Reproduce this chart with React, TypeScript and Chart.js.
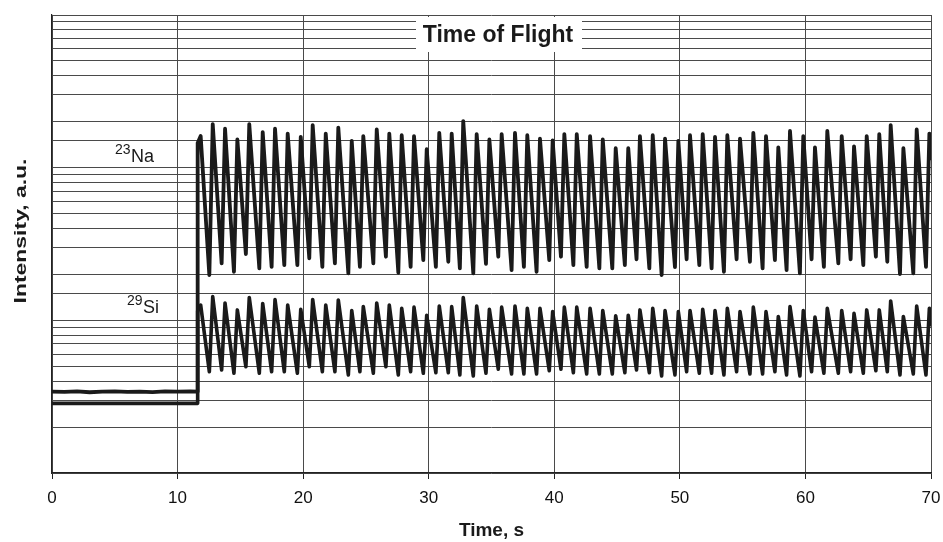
import React, { useEffect, useRef } from "react";
import { Chart, registerables } from "chart.js";

Chart.register(...registerables);

// ---- data ----
const xTickValues = [0, 10, 20, 30, 40, 50, 60, 70];

const jumpTime = 11.6;
const endTime = 70;

const naBaseTimes = [0, 1, 2, 3, 4, 5, 6, 7, 8, 9, 10, 11, 11.6];
const naBaseValues = [3.41, 3.4, 3.42, 3.38, 3.41, 3.42, 3.4, 3.41, 3.39, 3.42, 3.41, 3.43, 3.41];
const siBaseTimes = [0, 11.6];
const siBaseValues = [2.86, 2.86];

const naJumpTop = 145;
const siJumpTop = 11.5;
const naEnd = 112;
const siEnd = 9.1;

const peakTimes = [
  11.84, 12.8, 13.78, 14.76, 15.71, 16.78, 17.76, 18.77, 19.81, 20.76, 21.8, 22.8, 23.87, 24.79, 25.86,
  26.86, 27.85, 28.83, 29.84, 30.84, 31.83, 32.75, 33.82, 34.83, 35.81, 36.87, 37.85, 38.86, 39.87, 40.8,
  41.79, 42.85, 43.86, 44.89, 45.89, 46.82, 47.84, 48.82, 49.88, 50.81, 51.82, 52.8, 53.78, 54.79, 55.85,
  56.86, 57.84, 58.77, 59.83, 60.76, 61.74, 62.89, 63.87, 64.88, 65.88, 66.79, 67.8, 68.86, 69.87,
];

const troughTimes = [
  12.53, 13.51, 14.49, 15.44, 16.51, 17.49, 18.5, 19.54, 20.49, 21.53, 22.53, 23.6, 24.52, 25.59, 26.59,
  27.58, 28.56, 29.57, 30.57, 31.56, 32.48, 33.55, 34.56, 35.54, 36.6, 37.58, 38.59, 39.6, 40.53, 41.52,
  42.58, 43.59, 44.62, 45.62, 46.55, 47.57, 48.55, 49.61, 50.54, 51.55, 52.53, 53.51, 54.52, 55.58, 56.59,
  57.57, 58.5, 59.56, 60.49, 61.47, 62.62, 63.6, 64.61, 65.61, 66.52, 67.53, 68.59, 69.6,
];

const naPeaks = [
  161, 193, 180, 153, 193, 171, 180, 167, 159, 190, 167, 183, 150, 161, 178, 167, 163, 161,
  132, 169, 167, 202, 166, 153, 166, 169, 163, 155, 151, 166, 166, 161, 153, 134, 134, 161, 163, 155, 150,
  163, 166, 159, 163, 155, 169, 161, 136, 174, 161, 136, 174, 161, 138, 161, 166, 190, 134, 178, 167,
];

const naTroughs = [
  19.8, 23.6, 20.8, 27.2, 21.9, 22.4, 23.0, 23.0, 25.5, 22.4, 23.6, 20.3, 22.4, 23.6, 26.1, 20.5, 22.4,
  24.8, 22.4, 24.2, 21.9, 20.3, 23.4, 26.1, 21.3, 22.4, 20.8, 24.8, 26.1, 23.0, 22.4, 21.9, 21.9, 23.0, 25.1, 21.9, 19.8, 22.3,
  25.1, 23.0, 21.9, 20.8, 25.1, 24.2, 21.9, 24.8, 21.3, 20.3, 25.1, 22.4, 23.6, 25.1, 23.0, 26.1, 24.2, 20.1, 20.3, 22.4,
];

const siPeaks = [
  12.6, 14.3, 13.0, 11.7, 14.1, 12.9, 13.7, 12.6, 11.8, 13.7, 12.6, 13.6, 11.6, 12.3, 13.0, 12.6, 12.0, 12.2,
  10.8, 12.4, 12.3, 14.1, 12.4, 11.8, 12.2, 12.4, 12.0, 12.0, 11.4, 12.2, 12.2, 12.0, 11.6, 10.7, 10.8, 11.7, 12.0, 11.6, 11.4,
  11.6, 11.8, 11.6, 12.0, 11.4, 12.2, 11.4, 10.6, 12.3, 11.6, 10.5, 12.0, 11.6, 11.1, 11.7, 11.7, 13.4, 10.6, 12.4, 12.0,
];

const siTroughs = [
  4.61, 4.73, 4.5, 4.97, 4.5, 4.61, 4.61, 4.5, 4.97, 4.61, 4.61, 4.39, 4.61, 4.5, 4.97, 4.39, 4.61,
  4.5, 4.54, 4.54, 4.39, 4.32, 4.5, 4.78, 4.45, 4.45, 4.45, 4.68, 4.78, 4.54, 4.45, 4.45, 4.45, 4.54, 4.73, 4.54, 4.32, 4.39,
  4.61, 4.5, 4.5, 4.39, 4.61, 4.45, 4.45, 4.61, 4.39, 4.32, 4.61, 4.5, 4.5, 4.61, 4.5, 4.68, 4.61, 4.39, 4.45, 4.39,
];

// label anchors: [x (s), y (intensity)]
const naLabelAnchor = [6.29, 109];
const siLabelAnchor = [7.25, 11.25];

const FONT = '"Liberation Sans", Arial, sans-serif';
const INK = "#1a1a1a";
const GRID = "#4a4a4a";

function buildSeries(
  baseTimes: number[],
  baseValues: number[],
  jumpTop: number,
  peaks: number[],
  troughs: number[],
  endValue: number
) {
  const pts: { x: number; y: number }[] = baseTimes.map((t, i) => ({ x: t, y: baseValues[i] }));
  pts.push({ x: jumpTime, y: jumpTop });
  peakTimes.forEach((t, i) => {
    pts.push({ x: t, y: peaks[i] });
    if (i < troughTimes.length) pts.push({ x: troughTimes[i], y: troughs[i] });
  });
  pts.push({ x: endTime, y: endValue });
  return pts;
}

const overlayPlugin = {
  id: "overlayText",
  afterDraw(chart: any) {
    const { ctx, scales } = chart;
    const xs = scales.x;
    const ys = scales.y;
    ctx.save();

    // chart title inside the plot, on a white box
    ctx.fillStyle = "#ffffff";
    ctx.fillRect(416, 17, 166, 35);
    ctx.fillStyle = INK;
    ctx.font = `bold 23px ${FONT}`;
    ctx.textAlign = "center";
    ctx.textBaseline = "alphabetic";
    ctx.fillText("Time of Flight", 498, 42);

    // isotope labels
    const drawIso = (mass: string, sym: string, anchor: number[], supRaise: number) => {
      const px = xs.getPixelForValue(anchor[0]);
      const py = ys.getPixelForValue(anchor[1]);
      ctx.font = `18px ${FONT}`;
      ctx.textAlign = "left";
      ctx.fillText(sym, px, py);
      ctx.font = `14px ${FONT}`;
      ctx.textAlign = "right";
      ctx.fillText(mass, px - 0.5, py - supRaise);
    };
    drawIso("23", "Na", naLabelAnchor, 8);
    drawIso("29", "Si", siLabelAnchor, 8);

    // y-axis title (rotated)
    ctx.translate(25.5, 231);
    ctx.rotate(-Math.PI / 2);
    ctx.scale(1.35, 1);
    ctx.font = `bold 17px ${FONT}`;
    ctx.textAlign = "center";
    ctx.textBaseline = "alphabetic";
    ctx.fillText("Intensity, a.u.", 0, 0);
    ctx.restore();
  },
};

export default function App() {
  const ref = useRef<HTMLCanvasElement | null>(null);

  useEffect(() => {
    if (!ref.current) return;
    Chart.defaults.font.family = FONT;
    const chart = new Chart(ref.current, {
      type: "line",
      data: {
        datasets: [
          {
            label: "23Na",
            data: buildSeries(naBaseTimes, naBaseValues, naJumpTop, naPeaks, naTroughs, naEnd),
            borderColor: INK,
            borderWidth: 3.8,
            pointRadius: 0,
            tension: 0,
            borderJoinStyle: "round",
            fill: false,
          },
          {
            label: "29Si",
            data: buildSeries(siBaseTimes, siBaseValues, siJumpTop, siPeaks, siTroughs, siEnd),
            borderColor: INK,
            borderWidth: 3.6,
            pointRadius: 0,
            tension: 0,
            borderJoinStyle: "round",
            fill: false,
          },
        ],
      },
      options: {
        animation: false,
        responsive: false,
        devicePixelRatio: 1,
        layout: { padding: { top: 15, right: 12, left: 0, bottom: 0 } },
        plugins: {
          legend: { display: false },
          tooltip: { enabled: false },
          title: { display: false },
        },
        scales: {
          x: {
            type: "linear",
            min: 0,
            max: 70,
            afterBuildTicks: (s: any) => {
              s.ticks = xTickValues.map((v) => ({ value: v }));
            },
            afterFit: (s: any) => {
              s.height = 69;
              s.paddingLeft = 0;
              s.paddingRight = 0;
            },
            ticks: {
              color: "#111",
              font: { size: 17, family: FONT },
              padding: 9,
              maxRotation: 0,
            },
            grid: {
              color: GRID,
              lineWidth: 1,
              drawTicks: true,
              tickLength: 6,
              tickColor: "#222",
            },
            border: { display: true, color: "#222", width: 1.2 },
            title: {
              display: true,
              text: "Time, s",
              color: INK,
              font: { size: 19, weight: "bold", family: FONT },
              padding: { top: 0, bottom: 0 },
            },
          },
          y: {
            type: "logarithmic",
            min: 1,
            max: 1000,
            afterFit: (s: any) => {
              s.width = 52;
            },
            ticks: { display: false },
            grid: {
              color: GRID,
              lineWidth: 1,
              drawTicks: false,
            },
            border: { display: true, color: "#222", width: 1.2 },
            title: { display: false },
          },
        },
      },
      plugins: [overlayPlugin],
    } as any);
    return () => chart.destroy();
  }, []);

  return (
    <div style={{ position: "fixed", left: 0, top: 0, width: 943, height: 542, background: "#fff" }}>
      <canvas ref={ref} width={943} height={542} style={{ width: 943, height: 542, display: "block" }} />
    </div>
  );
}
